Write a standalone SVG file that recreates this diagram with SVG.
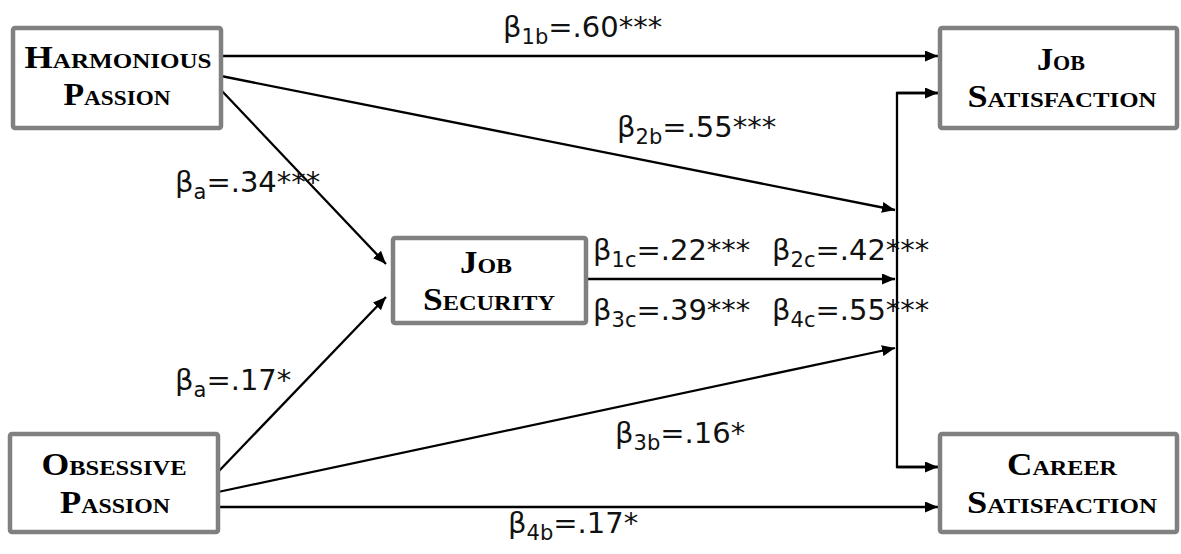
<svg xmlns="http://www.w3.org/2000/svg" width="1181" height="554" viewBox="0 0 1181 554">
<defs>
<marker id="ah" markerUnits="userSpaceOnUse" markerWidth="13" markerHeight="11" refX="13" refY="5.5" orient="auto">
<path d="M0,0 L13,5.5 L0,11 z" fill="#000"/>
</marker>
<style>
.box{fill:#fff;stroke:#808080;stroke-width:4.5}
.nt{font-family:"Liberation Serif","Times New Roman",serif;font-weight:bold;font-size:32px;font-variant:small-caps;text-anchor:middle;fill:#000}
.ln{stroke:#000;stroke-width:2.3;fill:none}
.ar{marker-end:url(#ah)}
.lb{font-family:"DejaVu Sans",sans-serif;font-size:29px;fill:#111}
.sb{font-size:21px}
</style>
</defs>
<rect width="1181" height="554" fill="#fff"/>
<g id="connectors">
<line class="ln ar" x1="221" y1="56" x2="938" y2="56"/>
<line class="ln ar" x1="221" y1="76" x2="895" y2="210"/>
<line class="ln ar" x1="221" y1="90" x2="386" y2="264"/>
<line class="ln ar" x1="218" y1="472" x2="386" y2="297"/>
<line class="ln ar" x1="218" y1="492" x2="895" y2="348"/>
<line class="ln ar" x1="218" y1="507" x2="938" y2="507"/>
<line class="ln ar" x1="586" y1="279" x2="895" y2="279"/>
<polyline class="ln" points="938,93 897,93 897,467 938,467"/>
<line class="ln ar" x1="897" y1="93" x2="938" y2="93"/>
<line class="ln ar" x1="897" y1="467" x2="938" y2="467"/>
</g>
<g id="labels">
<text class="lb" x="503" y="37">β<tspan class="sb" dy="7">1b</tspan><tspan dy="-7">=.60***</tspan></text>
<text class="lb" x="617" y="137">β<tspan class="sb" dy="7">2b</tspan><tspan dy="-7">=.55***</tspan></text>
<text class="lb" x="175" y="192">β<tspan class="sb" dy="7">a</tspan><tspan dy="-7">=.34***</tspan></text>
<text class="lb" x="175" y="390">β<tspan class="sb" dy="7">a</tspan><tspan dy="-7">=.17*</tspan></text>
<text class="lb" x="593" y="260">β<tspan class="sb" dy="7">1c</tspan><tspan dy="-7">=.22***</tspan></text>
<text class="lb" x="772" y="260">β<tspan class="sb" dy="7">2c</tspan><tspan dy="-7">=.42***</tspan></text>
<text class="lb" x="593" y="320">β<tspan class="sb" dy="7">3c</tspan><tspan dy="-7">=.39***</tspan></text>
<text class="lb" x="772" y="320">β<tspan class="sb" dy="7">4c</tspan><tspan dy="-7">=.55***</tspan></text>
<text class="lb" x="615" y="443">β<tspan class="sb" dy="7">3b</tspan><tspan dy="-7">=.16*</tspan></text>
<text class="lb" x="508" y="533">β<tspan class="sb" dy="7">4b</tspan><tspan dy="-7">=.17*</tspan></text>
</g>
<g id="harmonious">
<rect class="box" x="13" y="28" width="208" height="100" rx="2"/>
<text class="nt" x="118" y="68" textLength="187" lengthAdjust="spacingAndGlyphs">Harmonious</text>
<text class="nt" x="117" y="105" textLength="107" lengthAdjust="spacingAndGlyphs">Passion</text>
</g>
<g id="obsessive">
<rect class="box" x="10" y="434" width="208" height="98" rx="2"/>
<text class="nt" x="114" y="475" textLength="145" lengthAdjust="spacingAndGlyphs">Obsessive</text>
<text class="nt" x="115" y="513" textLength="110" lengthAdjust="spacingAndGlyphs">Passion</text>
</g>
<g id="jobsecurity">
<rect class="box" x="393" y="238" width="193" height="85" rx="2"/>
<text class="nt" x="486" y="273" textLength="52" lengthAdjust="spacingAndGlyphs">Job</text>
<text class="nt" x="489" y="310" textLength="132" lengthAdjust="spacingAndGlyphs">Security</text>
</g>
<g id="jobsatisfaction">
<rect class="box" x="940" y="28" width="237" height="100" rx="2"/>
<text class="nt" x="1061" y="70" textLength="48" lengthAdjust="spacingAndGlyphs">Job</text>
<text class="nt" x="1062" y="107" textLength="189" lengthAdjust="spacingAndGlyphs">Satisfaction</text>
</g>
<g id="careersatisfaction">
<rect class="box" x="940" y="434" width="237" height="98" rx="2"/>
<text class="nt" x="1062" y="475" textLength="110" lengthAdjust="spacingAndGlyphs">Career</text>
<text class="nt" x="1062" y="513" textLength="190" lengthAdjust="spacingAndGlyphs">Satisfaction</text>
</g>
</svg>
